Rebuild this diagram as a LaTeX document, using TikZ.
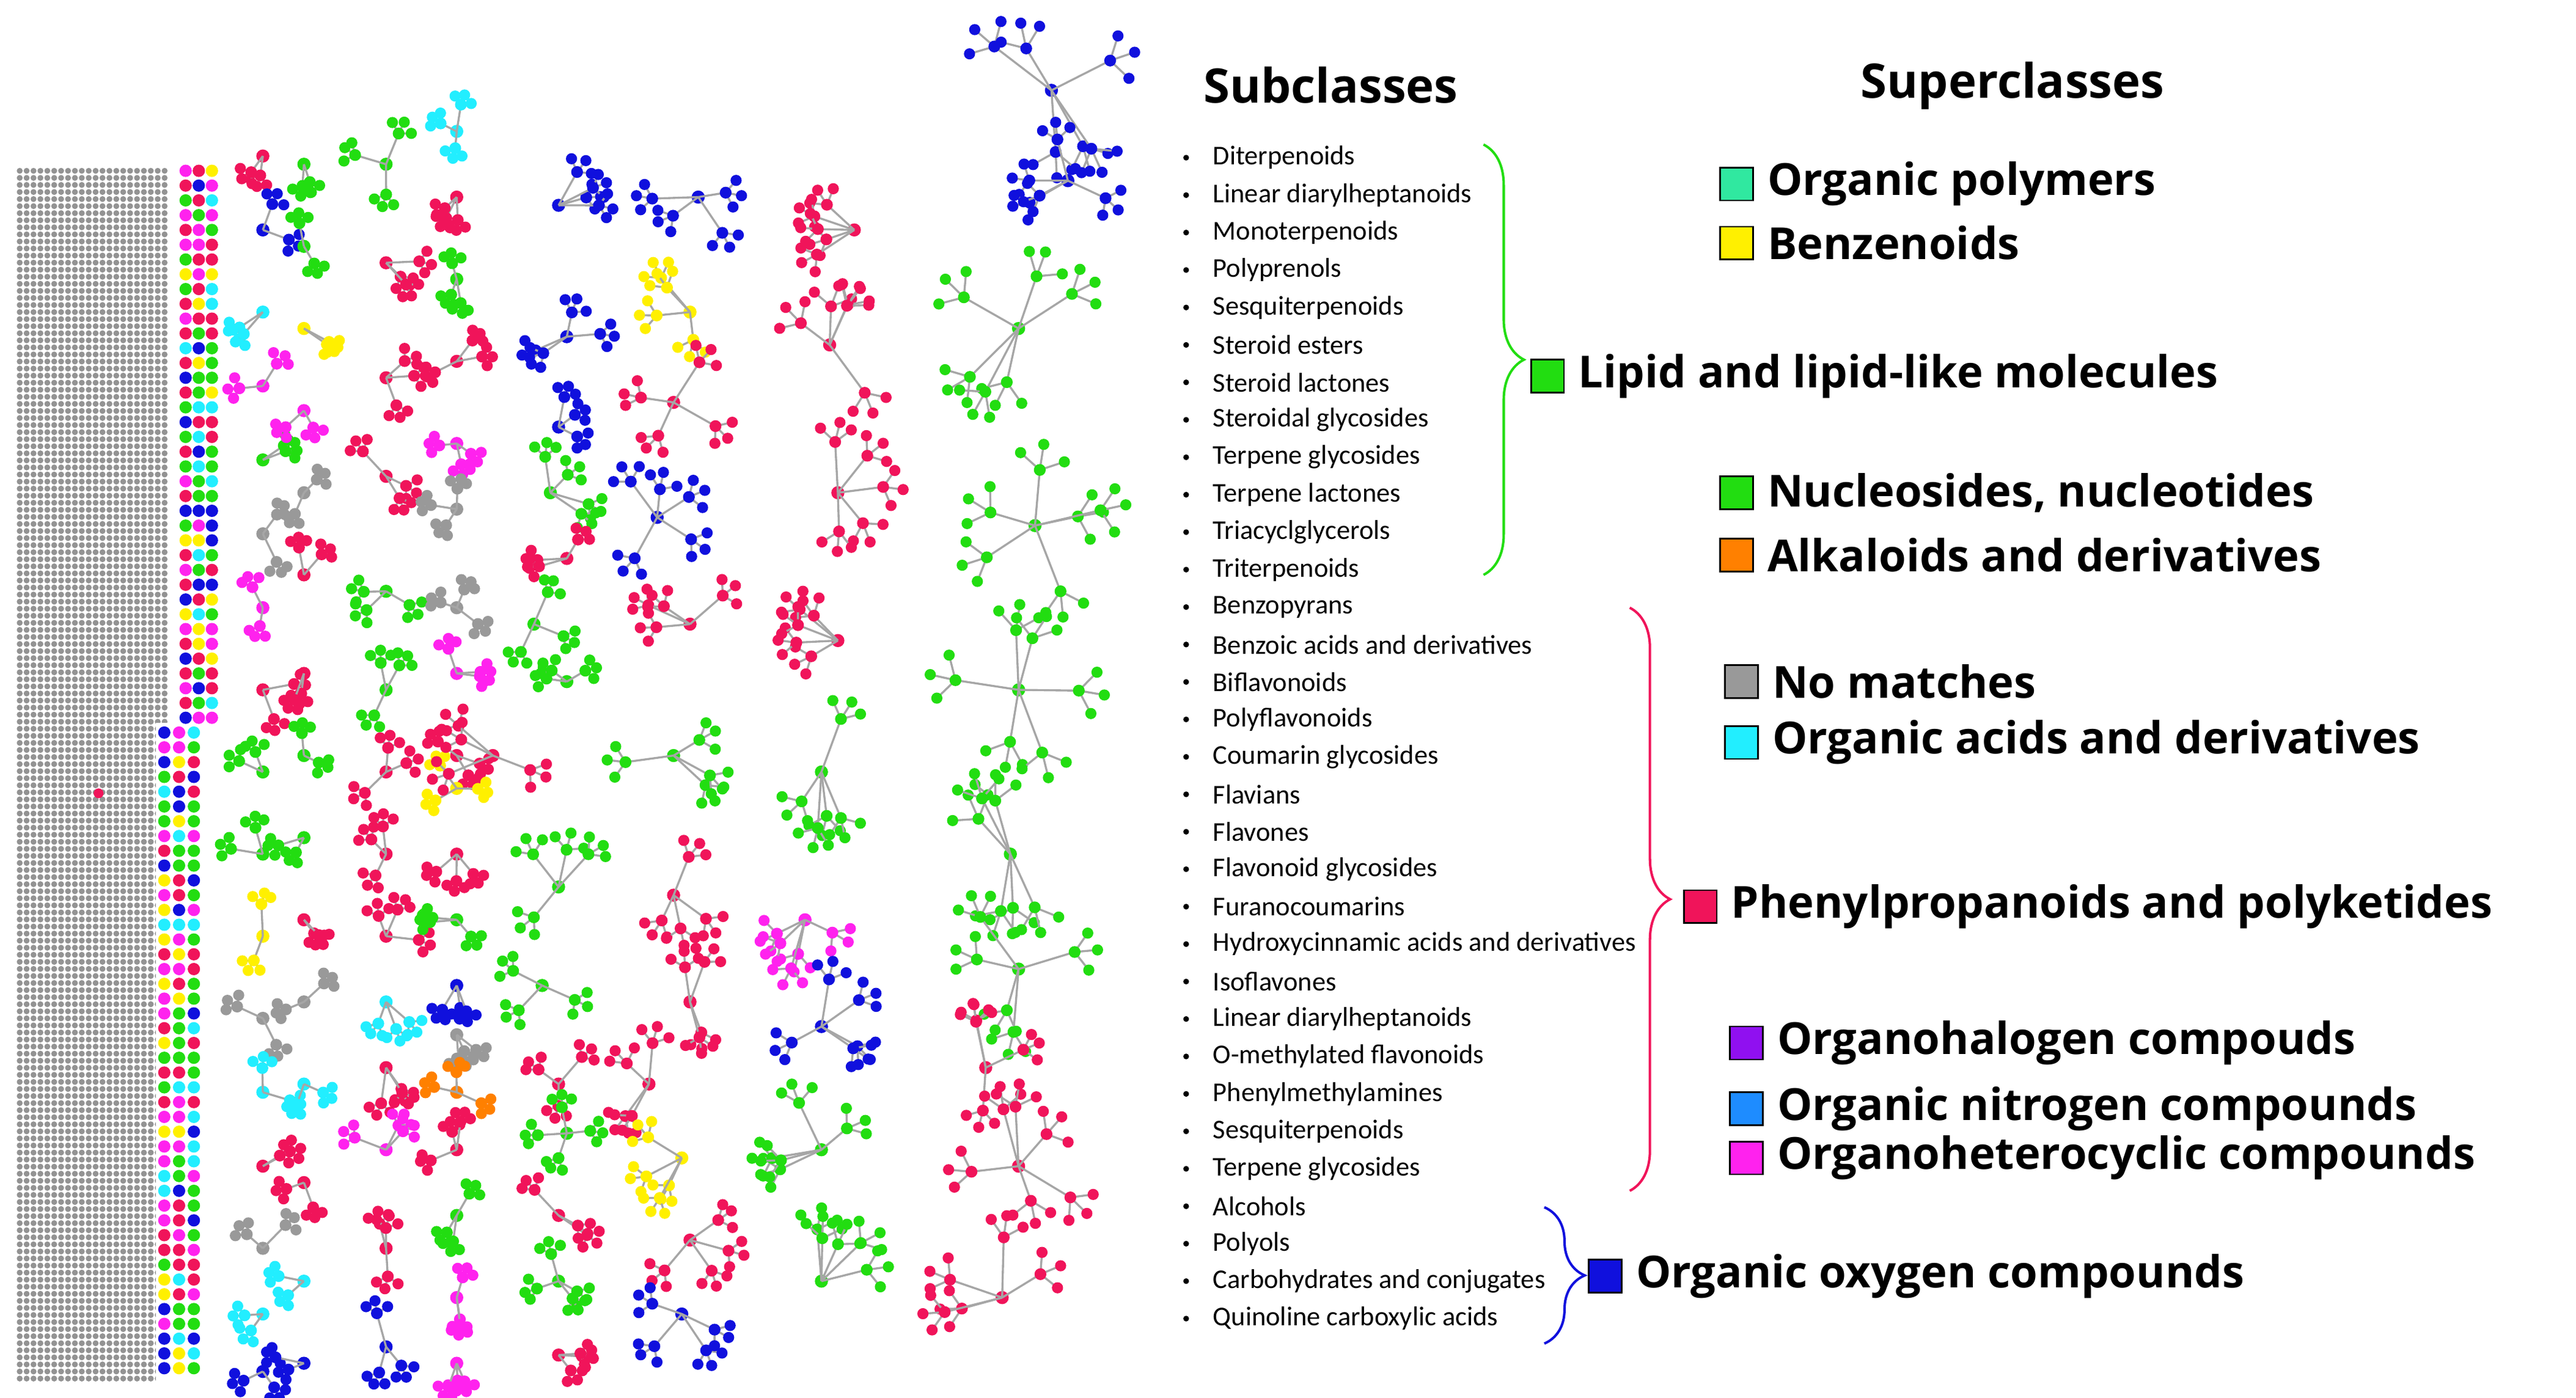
\documentclass[tikz,border=0pt]{standalone}
\usepackage{fontspec}
\setmainfont{Open Sans}
\newfontfamily\lst{Carlito}
\usetikzlibrary{decorations.pathreplacing,calc}
\definecolor{cpink}{HTML}{F0145A}
\definecolor{cgreen}{HTML}{22DD11}
\definecolor{cblue}{HTML}{1010DD}
\definecolor{cmag}{HTML}{FF22EE}
\definecolor{ccyan}{HTML}{22EEFF}
\definecolor{cyel}{HTML}{FFF000}
\definecolor{cgray}{HTML}{999999}
\definecolor{corg}{HTML}{FF8000}
\definecolor{cmint}{HTML}{30E8A0}
\definecolor{cpurp}{HTML}{9010F0}
\definecolor{cazure}{HTML}{1E8CFF}
\tikzset{edge/.style={draw=gray!70,line width=0.25mm},
 item/.style={anchor=west,font=\lst\fontsize{9.4}{10}\selectfont,inner sep=0},
 head/.style={font=\bfseries\fontsize{16.5}{18}\selectfont},
 leg/.style={anchor=west,font=\bfseries\fontsize{15.3}{17}\selectfont,inner sep=0},
 sq/.style={draw=black,line width=0.2mm,minimum size=4mm,inner sep=0}}
\newcommand\clu[5]{%
 \fill[#3] (#1,#2) circle (0.8mm);
 \foreach \i in {1,...,#4}{%
  \pgfmathsetmacro\aa{rnd*360}\pgfmathsetmacro\rr{(0.55+0.45*rnd)*#5}%
  \pgfmathsetmacro\hx{#1+\rr*cos(\aa)}\pgfmathsetmacro\hy{#2+\rr*sin(\aa)}%
  \draw[edge] (#1,#2) -- (\hx,\hy);
  \foreach \j in {1,2,3}{%
   \pgfmathsetmacro\bb{\aa+(\j-2)*55+rnd*20}\pgfmathsetmacro\ss{0.35*#5}%
   \draw[edge] (\hx,\hy) -- ++({\ss*cos(\bb)},{\ss*sin(\bb)});
   \fill[#3] ($(\hx,\hy)+({\ss*cos(\bb)},{\ss*sin(\bb)})$) circle (0.68mm);}
  \fill[#3] (\hx,\hy) circle (0.72mm);}}
\begin{document}
\begin{tikzpicture}[x=0.02cm,y=-0.02cm]
\useasboundingbox (0,0) rectangle (1568,851);
\pgfmathsetseed{7}
% gray grid
\foreach \c in {0,...,21}{\fill[gray!85] \foreach \r in {0,...,171}{(12+\c*4.2,104+\r*4.3) circle (0.36mm)};}
\fill[white] (95,440) rectangle (110,845);
% colored dot columns
\pgfmathdeclarerandomlist{cols}{{cpink}{cgreen}{cblue}{cmag}{ccyan}{cyel}{cpink}{cgreen}}
\foreach \c in {0,1,2}{\foreach \r in {0,...,81}{%
  \pgfmathrandomitem{\cc}{cols}%
  \pgfmathsetmacro\xx{\r>37 ? 100+\c*9 : 113+\c*8}%
  \fill[\cc] (\xx,104+\r*9) circle (0.75mm);}}
\fill[cpink] (60,483) circle (0.6mm);
% small chain clusters
\foreach \y/\c in {95/cpink,140/cblue,190/ccyan,235/cmag,280/cgreen,325/cgray,370/cmag,420/cpink,470/cgreen,520/cgreen,570/cyel,620/cgray,665/ccyan,710/cpink,760/cgray,800/ccyan,835/cblue}{\clu{160}{\y}{\c}{2}{20}}
\foreach \y/\c in {100/cgreen,150/cgreen,200/cyel,250/cmag,300/cgray,350/cpink,410/cpink,460/cgreen,510/cgreen,560/cpink,610/cgray,660/ccyan,720/cpink,780/ccyan,830/cblue}{\clu{185}{\y}{\c}{2}{18}}
\foreach \y/\c in {100/cgreen,160/cpink,230/cpink,290/cpink,360/cgreen,420/cgreen,470/cpink,520/cpink,570/cpink,610/ccyan,650/cpink,700/cmag,760/cpink,820/cblue}{\clu{235}{\y}{\c}{3}{22}}
\foreach \y/\c in {80/ccyan,120/cpink,170/cgreen,220/cpink,270/cmag,310/cgray,370/cgray,410/cmag,460/cpink,480/cyel,520/cpink,560/cgreen,600/cblue,630/cgray,665/corg,700/cpink,740/cgreen,790/cmag,830/cmag}{\clu{278}{\y}{\c}{3}{18}}
\foreach \x/\y/\c/\n/\r in {340/125/cblue/4/25,345/205/cblue/4/25,340/260/cblue/3/20,335/300/cgreen/4/25,345/340/cpink/3/20,325/380/cgreen/3/22,345/415/cgreen/3/20,300/460/cpink/4/30,340/540/cgreen/4/30,330/600/cgreen/3/25,340/660/cpink/3/22,345/690/cgreen/4/22,340/740/cpink/3/22,340/780/cgreen/4/22,340/825/cpink/3/20}{\clu{\x}{\y}{\c}{\n}{\r}}
\foreach \x/\y/\c/\n/\r in {425/120/cblue/4/28,420/190/cyel/4/30,410/245/cpink/4/30,400/315/cblue/5/30,420/380/cpink/4/28,410/460/cgreen/4/32,410/545/cpink/4/30,420/610/cpink/4/28,395/660/cpink/4/30,415/705/cyel/4/28,420/755/cpink/4/28,415/800/cblue/4/28}{\clu{\x}{\y}{\c}{\n}{\r}}
\foreach \x/\y/\c/\n/\r in {520/140/cpink/5/30,505/210/cpink/5/38,510/300/cpink/5/35,510/390/cpink/5/32,500/470/cgreen/5/35,490/560/cmag/5/32,500/625/cblue/5/32,500/700/cgreen/5/35,500/780/cgreen/5/38}{\clu{\x}{\y}{\c}{\n}{\r}}
\foreach \x/\y/\c/\n/\r in {640/55/cblue/6/45,650/110/cblue/5/30,620/200/cgreen/6/45,630/320/cgreen/6/45,620/420/cgreen/6/45,615/520/cgreen/6/45,620/590/cgreen/5/40,600/650/cpink/4/30,620/710/cpink/6/40,610/790/cpink/5/38}{\clu{\x}{\y}{\c}{\n}{\r}}
% headings
\node[head] (sub) at (810,52) {Subclasses};
\node[head] (sup) at (1225,52) {Superclasses};
% list
\foreach [count=\k from 0] \t in {Diterpenoids,Linear diarylheptanoids,Monoterpenoids,Polyprenols,Sesquiterpenoids,Steroid esters,Steroid lactones,Steroidal glycosides,Terpene glycosides,Terpene lactones,Triacyclglycerols,Triterpenoids,Benzopyrans,Benzoic acids and derivatives,Biflavonoids,Polyflavonoids,Coumarin glycosides,Flavians,Flavones,Flavonoid glycosides,Furanocoumarins,Hydroxycinnamic acids and derivatives,Isoflavones,Linear diarylheptanoids,O-methylated flavonoids,Phenylmethylamines,Sesquiterpenoids,Terpene glycosides,Alcohols,Polyols,Carbohydrates and conjugates,Quinoline carboxylic acids}{%
  \fill (722,96+\k*22.8) circle (0.35mm);
  \node[item] (it\k) at (738,96+\k*22.8) {\t};}
% braces
\draw[cgreen,line width=0.3mm,decorate,decoration={brace,amplitude=14}] (903,88) -- (903,350);
\draw[cpink,line width=0.3mm,decorate,decoration={brace,amplitude=14}] (992,370) -- (992,725);
\draw[cblue,line width=0.3mm,decorate,decoration={brace,amplitude=14}] (940,735) -- (940,818);
% legend
\foreach \x/\y/\c/\t in {1057/112/cmint/Organic polymers,1057/148/cyel/Benzenoids,942/229/cgreen/Lipid and lipid-like molecules,1057/300/cgreen/{Nucleosides, nucleotides},1057/338/corg/Alkaloids and derivatives,1060/415/cgray/No matches,1060/452/ccyan/Organic acids and derivatives,1035/552/cpink/Phenylpropanoids and polyketides,1063/635/cpurp/Organohalogen compouds,1063/675/cazure/Organic nitrogen compounds,1063/705/cmag/Organoheterocyclic compounds,977/777/cblue/Organic oxygen compounds}{%
  \node[sq,fill=\c] (s\y) at (\x,\y) {};
  \node[leg] (l\y) at ([xshift=1.6mm]s\y.east) {\t};}
\end{tikzpicture}
\end{document}
